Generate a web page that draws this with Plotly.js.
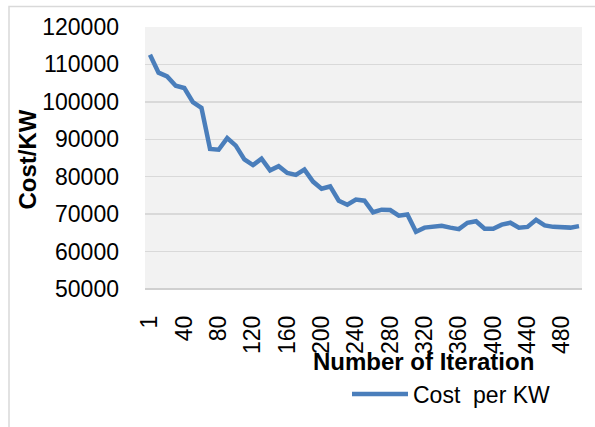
<!DOCTYPE html>
<html>
<head>
<meta charset="utf-8">
<script src="https://cdn.plot.ly/plotly-3.0.1.min.js"></script>
<style>html,body{margin:0;padding:0;background:#fff;}#chart{width:595px;height:427px;}</style>
</head>
<body>
<div id="chart"></div>
<script>
const iterations = ['1','10','20','30','40','50','60','70','80','90','100','110','120','130','140','150','160','170','180','190','200','210','220','230','240','250','260','270','280','290','300','310','320','330','340','350','360','370','380','390','400','410','420','430','440','450','460','470','480','490','500'];
const costPerKW = [112600,107800,106800,104300,103700,99900,98400,87400,87200,90300,88300,84600,83100,84800,81700,82800,81000,80500,81900,78700,76800,77400,73600,72500,73900,73600,70500,71200,71100,69600,69900,65300,66400,66800,66900,66400,66000,67700,68100,66100,66100,67200,67700,66400,66600,68500,67000,66600,66400,66400,66800];
const xTickVals = ['1','40','80','120','160','200','240','280','320','360','400','440','480'];
const seriesName = 'Cost\u00a0 per KW';

const FONT = 'Liberation Sans, Arial, sans-serif';
const L = 145, R = 13, T = 27, B = 133;
const W = 595 - L - R, H = 427 - T - B;
const px = v => (v - L) / W;
const py = v => (427 - B - v) / H;

const trace = {
  x: iterations, y: costPerKW, type: 'scatter', mode: 'lines', name: seriesName,
  line: {color: '#4a7ebb', width: 4.5}
};

const layout = {
  width: 595, height: 427,
  margin: {l: L, r: R, t: T, b: B, pad: 0},
  paper_bgcolor: '#ffffff', plot_bgcolor: '#f2f2f2',
  font: {family: FONT, size: 23, color: '#000'},
  showlegend: true,
  legend: {x: px(347), y: py(401), xanchor: 'left', yanchor: 'middle', itemwidth: 56,
           bgcolor: 'rgba(0,0,0,0)', font: {family: FONT, size: 23, color: '#000'}},
  xaxis: {type: 'category', range: [-0.58, 50.35], tickmode: 'array', tickvals: xTickVals, ticktext: xTickVals,
          tickangle: -90, showgrid: false, zeroline: false, showline: false, ticks: '',
          ticklabelstandoff: 21, tickfont: {family: FONT, size: 23, color: '#000'}, fixedrange: true},
  yaxis: {range: [50000, 120000], dtick: 10000, tick0: 50000, tickformat: 'd', showgrid: true, gridcolor: '#d9d9d9', gridwidth: 1.3,
          zeroline: false, showline: false, ticks: '', ticklabelstandoff: 25,
          tickfont: {family: FONT, size: 23, color: '#000'}, fixedrange: true},
  annotations: [
    {text: '<b>Number of Iteration</b>', xref: 'paper', yref: 'paper', x: px(423), y: py(368),
     xanchor: 'center', yanchor: 'middle', showarrow: false, font: {family: FONT, size: 24, color: '#000'}},
    {text: '<b>Cost/KW</b>', xref: 'paper', yref: 'paper', x: px(27), y: py(162), textangle: -90,
     xanchor: 'center', yanchor: 'middle', showarrow: false, font: {family: FONT, size: 24, color: '#000'}}
  ],
  shapes: [
    {type: 'rect', xref: 'paper', yref: 'paper', x0: px(9), x1: px(640), y0: py(6), y1: py(480),
     line: {color: '#d9d9d9', width: 1.5}, fillcolor: 'rgba(0,0,0,0)', layer: 'below'},
    {type: 'line', xref: 'paper', yref: 'paper', x0: 0, x1: 1, y0: 0, y1: 0,
     line: {color: '#d0d0d0', width: 2}, layer: 'below'}
  ]
};

Plotly.newPlot('chart', [trace], layout, {staticPlot: true, displayModeBar: false});
</script>
</body>
</html>
